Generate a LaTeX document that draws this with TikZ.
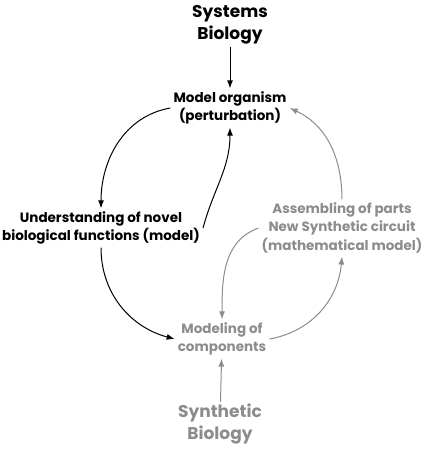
\documentclass[tikz,border=0pt]{standalone}
\usepackage{fontspec}
\setmainfont{Poppins}
\usetikzlibrary{arrows.meta}
\definecolor{synthgray}{RGB}{140,140,140}
\tikzset{
  sysbox/.style={align=center, font=\fontsize{17}{22}\selectfont\bfseries, inner sep=2pt},
  stepbox/.style={align=center, font=\fontsize{13.5}{18.5}\selectfont\bfseries, inner sep=3pt},
  synth/.style={text=synthgray},
  link/.style={-{Latex[length=8pt,width=6pt]}, line width=1pt},
  synthlink/.style={link, draw=synthgray}
}
\begin{document}
\begin{tikzpicture}[x=1pt, y=-1pt]
    \useasboundingbox (0,0) rectangle (423,449);

    % Titres
    \node[sysbox] (sys) at (230, 25) {Systems\\Biology};
    \node[sysbox, synth] (synbio) at (220, 424) {Synthetic\\Biology};

    % Etapes
    \node[stepbox] (model) at (230, 108) {Model organism\\(perturbation)};
    \node[stepbox] (und) at (101, 228) {Understanding of novel\\biological functions (model)};
    \node[stepbox, synth] (modeling) at (222, 339) {Modeling of\\components};
    \node[stepbox, synth] (assembly) at (342, 228) {Assembling of parts\\New Synthetic circuit\\(mathematical model)};

    % Cycle biologie des systemes
    \draw[link] (sys) -- (model);
    \draw[link] (model.west) to[out=190, in=90] (und.north);
    \draw[link] (und.east) to[out=75, in=-90] (model.south);
    \draw[link] (und.south) to[out=-90, in=165] (modeling.west);

    % Cycle biologie synthetique
    \draw[synthlink] (synbio) -- (modeling);
    \draw[synthlink] (modeling.east) to[out=10, in=-95] (assembly.south);
    \draw[synthlink] (assembly.north) to[out=90, in=-25] (model.east);
    \draw[synthlink] (assembly.west) to[out=200, in=90] (modeling.north);

\end{tikzpicture}
\end{document}
